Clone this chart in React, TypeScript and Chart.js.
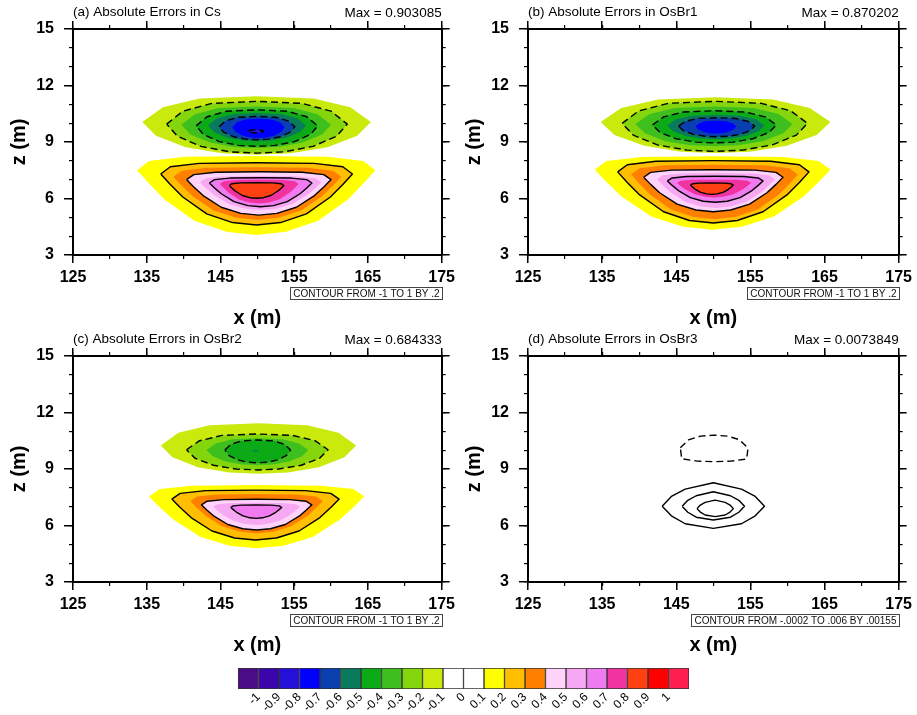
import React, { useEffect, useRef } from 'react';
import { Chart, registerables } from 'chart.js';

Chart.register(...registerables);

const FONT = '"Liberation Sans", Arial, Helvetica, sans-serif';
Chart.defaults.font.family = FONT;
Chart.defaults.color = '#000';

// ---------- axes ----------
const X_MIN = 125;
const X_MAX = 175;
const Z_MIN = 3;
const Z_MAX = 15;
const X_MAJOR_STEP = 10;
const X_MINOR_STEP = 5;
const Z_MAJOR_STEP = 3;
const Z_MINOR_STEP = 1;

// ---------- colour bar ----------
const colorbarLabels = ['-1', '-0.9', '-0.8', '-0.7', '-0.6', '-0.5', '-0.4', '-0.3', '-0.2', '-0.1', '0',
  '0.1', '0.2', '0.3', '0.4', '0.5', '0.6', '0.7', '0.8', '0.9', '1'];
const colorbarColors = ['#4B0C87', '#3A05AA', '#2410D8', '#0000FF', '#0A3FB0', '#0A7A5C', '#0BAA16', '#3EBF1E',
  '#84D50C', '#C9EA0C', '#FFFFFF', '#FFFFFF', '#FFFF00', '#FFBE00', '#FF8000', '#FFD3FA', '#F7A8F2', '#F07AF0',
  '#F0339E', '#FF4010', '#FF0000', '#FF1E50'];

// ---------- contour shape templates (unit outlines) ----------
const lensU = [-1, -0.82, -0.5, 0, 0.5, 0.82, 1, 0.88, 0.62, 0.3, 0, -0.3, -0.62, -0.88];
const lensV = [0.12, 0.62, 0.92, 1, 0.92, 0.62, 0.12, -0.35, -0.74, -0.95, -1, -0.95, -0.74, -0.35];
const lobeU = [-1, -0.9, -0.6, 0, 0.6, 0.9, 1, 0.9, 0.77, 0.52, 0.25, 0, -0.25, -0.52, -0.77, -0.9];
const lobeV = [0.64, 0.87, 0.98, 1, 0.98, 0.87, 0.64, 0.3, -0.1, -0.64, -0.92, -1, -0.92, -0.64, -0.1, 0.3];
const domeU = [-1, -0.76, -0.4, 0, 0.4, 0.74, 1, 0.96, 0.5, 0, -0.5, -0.96];
const domeV = [0.04, 0.64, 0.92, 1, 0.92, 0.66, 0.02, -0.8, -0.96, -1, -0.96, -0.78];
const eyeU = [-1, -0.82, -0.55, 0, 0.55, 0.82, 1, 0.82, 0.55, 0, -0.55, -0.82];
const eyeV = [-0.03, 0.4, 0.72, 1, 0.72, 0.4, -0.03, -0.45, -0.8, -1, -0.8, -0.45];

// ---------- contour levels: [level, xLeft, xRight, zBottom, zTop] ----------
const csNeg = [
  [-0.1, 134.4, 165.4, 8.32, 11.43],
  [-0.2, 137.7, 162.2, 8.41, 11.16],
  [-0.3, 139.7, 160.0, 8.68, 10.89],
  [-0.4, 141.7, 158.2, 8.77, 10.71],
  [-0.5, 143.3, 156.6, 9.04, 10.54],
  [-0.6, 144.8, 155.1, 9.12, 10.36],
  [-0.7, 146.6, 153.7, 9.21, 10.24],
  [-0.8, 148.8, 150.8, 9.48, 9.65],
];
const csPos = [
  [0.1, 133.7, 166.0, 4.06, 8.26],
  [0.2, 136.9, 162.9, 4.59, 7.90],
  [0.3, 138.6, 161.4, 4.86, 7.66],
  [0.4, 140.4, 160.0, 5.12, 7.42],
  [0.5, 142.2, 158.7, 5.39, 7.19],
  [0.6, 143.5, 157.4, 5.56, 7.10],
  [0.7, 144.9, 155.6, 5.74, 7.00],
  [0.8, 146.2, 153.6, 6.01, 6.84],
];
const osBr1Neg = [
  [-0.1, 134.8, 165.8, 8.41, 11.37],
  [-0.2, 137.7, 162.7, 8.50, 11.16],
  [-0.3, 139.5, 160.7, 8.77, 10.89],
  [-0.4, 141.8, 158.5, 8.95, 10.66],
  [-0.5, 143.8, 156.9, 9.15, 10.45],
  [-0.6, 145.3, 155.6, 9.28, 10.29],
  [-0.7, 147.6, 153.1, 9.45, 10.13],
];
const osBr1Pos = [
  [0.1, 134.0, 165.8, 4.34, 8.24],
  [0.2, 137.1, 162.9, 4.70, 8.01],
  [0.3, 138.9, 161.4, 4.90, 7.79],
  [0.4, 140.6, 159.4, 5.30, 7.53],
  [0.5, 142.4, 158.3, 5.50, 7.35],
  [0.6, 143.8, 156.7, 5.80, 7.18],
  [0.7, 145.1, 155.1, 6.05, 7.00],
  [0.8, 146.9, 152.7, 6.22, 6.82],
];
const osBr2Neg = [
  [-0.1, 136.9, 163.4, 8.75, 11.43],
  [-0.2, 140.4, 159.6, 8.95, 10.86],
  [-0.3, 143.1, 156.9, 9.21, 10.63],
  [-0.4, 145.6, 154.5, 9.33, 10.54],
  [-0.5, 149.3, 150.2, 9.93, 10.01],
];
const osBr2Pos = [
  [0.1, 135.3, 164.5, 4.79, 8.15],
  [0.2, 138.4, 161.1, 5.23, 7.88],
  [0.3, 140.9, 158.9, 5.58, 7.67],
  [0.4, 142.4, 157.4, 5.76, 7.39],
  [0.5, 144.0, 155.8, 6.03, 7.21],
  [0.6, 146.4, 153.3, 6.38, 7.09],
];
const osBr3Neg = [
  [-0.0002, 145.55, 154.68, 9.39, 10.8],
];
const osBr3Pos = [
  [0.00135, 143.1, 156.9, 5.85, 8.27],
  [0.0029, 145.8, 154.2, 6.29, 7.79],
  [0.00445, 147.8, 152.7, 6.47, 7.35],
];

// ---------- panel texts ----------
const panelTitles = ['(a) Absolute Errors in Cs', '(b) Absolute Errors in OsBr1', '(c) Absolute Errors in OsBr2', '(d) Absolute Errors in OsBr3'];
const panelMaxima = ['Max = 0.903085', 'Max = 0.870202', 'Max = 0.684333', 'Max = 0.0073849'];
const panelNotes = ['CONTOUR FROM -1 TO 1 BY .2', 'CONTOUR FROM -1 TO 1 BY .2', 'CONTOUR FROM -1 TO 1 BY .2', 'CONTOUR FROM -.0002 TO .006 BY .00155'];

const templates: any = { lens: [lensU, lensV], lobe: [lobeU, lobeV], dome: [domeU, domeV], eye: [eyeU, eyeV] };

const panelContours: any[] = [
  { filled: true, sets: [{ shape: 'lens', rows: csNeg }, { shape: 'lobe', rows: csPos }] },
  { filled: true, sets: [{ shape: 'lens', rows: osBr1Neg }, { shape: 'lobe', rows: osBr1Pos }] },
  { filled: true, sets: [{ shape: 'lens', rows: osBr2Neg }, { shape: 'lobe', rows: osBr2Pos }] },
  { filled: false, sets: [{ shape: 'dome', rows: osBr3Neg }, { shape: 'eye', rows: osBr3Pos }] },
];

// layout of each panel canvas (page pixels)
const panelBoxes = [
  { left: 0, top: 0, width: 460, height: 335 },
  { left: 455, top: 0, width: 462, height: 335 },
  { left: 0, top: 327, width: 460, height: 335 },
  { left: 455, top: 327, width: 462, height: 335 },
];

function polygon(tu: number[], tv: number[], row: number[]) {
  const xl = row[1], xr = row[2], zb = row[3], zt = row[4];
  const pts = tu.map((u, i) => ({ x: xl + ((u + 1) / 2) * (xr - xl), y: zb + ((tv[i] + 1) / 2) * (zt - zb) }));
  pts.push({ ...pts[0] });
  return pts;
}

function lineDataset(pts: any[], level: number) {
  return {
    data: pts,
    borderColor: '#000',
    borderWidth: 1.4,
    borderDash: level < 0 ? [7, 4] : [],
    borderJoinStyle: 'round',
    fill: false,
    pointRadius: 0,
    tension: 0,
    order: 0,
  };
}

function buildDatasets(p: any) {
  const ds: any[] = [];
  for (const set of p.sets) {
    const [tu, tv] = templates[set.shape];
    for (const row of set.rows) {
      const L = row[0];
      const pts = polygon(tu, tv, row);
      if (p.filled) {
        const k = Math.round((L + 1) * 10);
        const color = L > 0 ? colorbarColors[k + 1] : colorbarColors[k];
        const rank = Math.round(Math.abs(L) * 10);
        ds.push({ data: pts, backgroundColor: color, borderColor: color, borderWidth: 0, fill: 'shape', pointRadius: 0, tension: 0, order: 100 - rank });
        if (rank % 2 === 0) ds.push(lineDataset(pts, L));
      } else {
        ds.push(lineDataset(pts, L));
      }
    }
  }
  return ds;
}

function panelScales(rightWidth: number) {
  const tickFont = { family: FONT, size: 16, weight: 'bold' };
  const titleFont = { family: FONT, size: 20, weight: 'bold' };
  const gridMajor = (len: number) => ({ display: true, drawOnChartArea: false, drawTicks: true, tickLength: len, tickWidth: 1.5, tickColor: '#000', lineWidth: 1.5, color: '#000' });
  const gridMinor = { display: true, drawOnChartArea: false, drawTicks: true, tickLength: 4, tickWidth: 1.2, tickColor: '#000', lineWidth: 1.2, color: '#000' };
  const frame = { display: true, color: '#000', width: 2 };
  const noFrame = { display: false };
  const xr = { type: 'linear', min: X_MIN, max: X_MAX };
  const zr = { type: 'linear', min: Z_MIN, max: Z_MAX };
  return {
    x: {
      ...xr, position: 'bottom', weight: 1,
      ticks: { stepSize: X_MAJOR_STEP, font: tickFont, color: '#000', padding: 5, autoSkip: false, maxRotation: 0 },
      grid: gridMajor(8), border: frame,
      title: { display: true, text: 'x (m)', font: titleFont, color: '#000', padding: { top: 0, bottom: 5 } },
      afterFit(s: any) { s.height = 80; },
    },
    xMinorB: {
      ...xr, position: 'bottom', weight: 0,
      ticks: { display: false, stepSize: X_MINOR_STEP }, grid: gridMinor, border: noFrame,
      afterFit(s: any) { s.height = 0; },
    },
    xTop: {
      ...xr, position: 'top', weight: 1,
      ticks: { display: false, stepSize: X_MAJOR_STEP }, grid: gridMajor(8), border: frame,
      afterFit(s: any) { s.height = 29; },
    },
    xMinorT: {
      ...xr, position: 'top', weight: 0,
      ticks: { display: false, stepSize: X_MINOR_STEP }, grid: gridMinor, border: noFrame,
      afterFit(s: any) { s.height = 0; },
    },
    y: {
      ...zr, position: 'left', weight: 1,
      ticks: { stepSize: Z_MAJOR_STEP, font: tickFont, color: '#000', padding: 10, autoSkip: false },
      grid: gridMajor(9), border: frame,
      title: { display: true, text: 'z (m)', font: titleFont, color: '#000', padding: { top: 7, bottom: 0 } },
      afterFit(s: any) { s.width = 73; },
    },
    yMinorL: {
      ...zr, position: 'left', weight: 0,
      ticks: { display: false, stepSize: Z_MINOR_STEP }, grid: gridMinor, border: noFrame,
      afterFit(s: any) { s.width = 0; },
    },
    yRight: {
      ...zr, position: 'right', weight: 1,
      ticks: { display: false, stepSize: Z_MAJOR_STEP }, grid: gridMajor(8), border: frame,
      afterFit(s: any) { s.width = rightWidth; },
    },
    yMinorR: {
      ...zr, position: 'right', weight: 0,
      ticks: { display: false, stepSize: Z_MINOR_STEP }, grid: gridMinor, border: noFrame,
      afterFit(s: any) { s.width = 0; },
    },
  };
}

const panelTextPlugin = {
  id: 'panelText',
  afterDraw(chart: any, _args: any, opts: any) {
    const { ctx, chartArea } = chart;
    ctx.save();
    ctx.fillStyle = '#000';
    ctx.font = `13.5px ${FONT}`;
    ctx.textBaseline = 'alphabetic';
    ctx.textAlign = 'left';
    ctx.fillText(opts.title, chartArea.left, chartArea.top - 13);
    ctx.textAlign = 'right';
    ctx.fillText(opts.max, chartArea.right, chartArea.top - 12);
    ctx.font = `10px ${FONT}`;
    const w = Math.round(ctx.measureText(opts.note).width + 6);
    const h = 12;
    const x = Math.round(chartArea.right - w);
    const y = Math.round(chartArea.bottom + 32);
    ctx.fillStyle = '#fff';
    ctx.fillRect(x, y, w, h);
    ctx.strokeStyle = '#444';
    ctx.lineWidth = 1;
    ctx.strokeRect(x + 0.5, y + 0.5, w, h);
    ctx.fillStyle = '#111';
    ctx.textAlign = 'center';
    ctx.textBaseline = 'middle';
    ctx.fillText(opts.note, x + w / 2 + 0.5, y + h / 2 + 1);
    ctx.restore();
  },
};

function Panel({ index }: { index: number }) {
  const ref = useRef<HTMLCanvasElement>(null);
  const b = panelBoxes[index];
  useEffect(() => {
    const chart = new Chart(ref.current as HTMLCanvasElement, {
      type: 'line',
      data: { datasets: buildDatasets(panelContours[index]) as any },
      options: {
        responsive: false,
        animation: false,
        events: [],
        layout: { padding: 0 },
        plugins: {
          legend: { display: false },
          tooltip: { enabled: false },
          panelText: { title: panelTitles[index], max: panelMaxima[index], note: panelNotes[index] },
        } as any,
        scales: panelScales(b.width - 447) as any,
      },
      plugins: [panelTextPlugin as any],
    });
    return () => chart.destroy();
  }, [index]);
  return (
    <canvas
      ref={ref}
      width={b.width}
      height={b.height}
      style={{ position: 'absolute', left: b.left, top: b.top, width: b.width, height: b.height }}
    />
  );
}

function ColorBar() {
  const ref = useRef<HTMLCanvasElement>(null);
  useEffect(() => {
    const chart = new Chart(ref.current as HTMLCanvasElement, {
      type: 'bar',
      data: {
        labels: [''],
        datasets: colorbarColors.map((c) => ({
          data: [1],
          backgroundColor: c,
          borderColor: '#333',
          borderWidth: 1,
          borderSkipped: false,
          barPercentage: 1,
          categoryPercentage: 1,
        })) as any,
      },
      options: {
        indexAxis: 'y',
        responsive: false,
        animation: false,
        events: [],
        layout: { padding: { left: 38, right: 31, top: 18, bottom: 0 } },
        plugins: { legend: { display: false }, tooltip: { enabled: false } },
        scales: {
          x: {
            type: 'linear', stacked: true, min: 0, max: colorbarColors.length,
            ticks: {
              stepSize: 1, autoSkip: false, minRotation: 45, maxRotation: 45,
              font: { family: FONT, size: 12 }, color: '#000', padding: -7,
              callback: (v: any) => (v >= 1 && v <= colorbarLabels.length ? colorbarLabels[v - 1] : ''),
            },
            grid: { display: false },
            border: { display: false },
            afterFit(s: any) { s.height = 26; },
          } as any,
          y: { stacked: true, display: false },
        },
      },
    });
    return () => chart.destroy();
  }, []);
  return (
    <canvas
      ref={ref}
      width={520}
      height={65}
      style={{ position: 'absolute', left: 200, top: 650, width: 520, height: 65 }}
    />
  );
}

export default function App() {
  return (
    <div style={{ position: 'absolute', left: 0, top: 0, width: 917, height: 715, background: '#fff', overflow: 'hidden' }}>
      {panelBoxes.map((_, i) => (
        <Panel key={i} index={i} />
      ))}
      <ColorBar />
    </div>
  );
}
